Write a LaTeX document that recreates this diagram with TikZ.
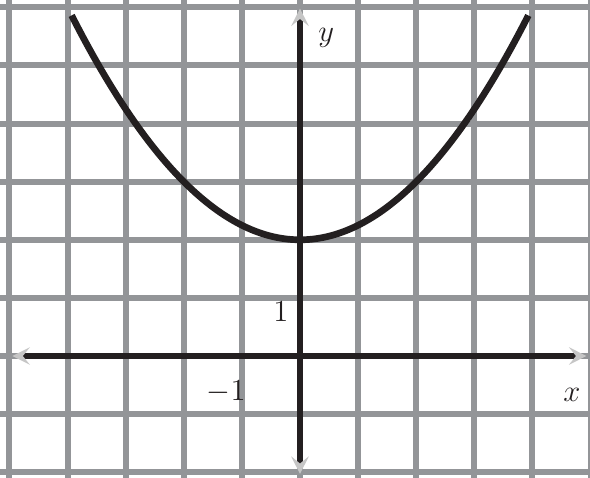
\documentclass[tikz,border=0pt]{standalone}
\usepackage{fix-cm}
\usetikzlibrary{arrows.meta}
\definecolor{gridgray}{HTML}{939598}
\definecolor{inkblack}{HTML}{231F20}
\begin{document}
\begin{tikzpicture}[x=1cm,y=1cm,
  gridline/.style={draw=gridgray, line width=0.103cm},
  axisline/.style={draw=inkblack, line width=0.105cm,
    {Stealth[length=0.3cm,width=0.3cm,inset=0.12cm,color=gray!45]}-{Stealth[length=0.3cm,width=0.3cm,inset=0.12cm,color=gray!45]}},
  curveline/.style={draw=inkblack, line width=0.115cm, line join=round},
  lbl/.style={inner sep=0pt, text=inkblack, font=\fontsize{15}{18}\selectfont}
]
\useasboundingbox (-5.163,-2.083) rectangle (4.991,6.127);
% grid
\foreach \i in {-5,...,5} \draw[gridline] (\i,-2.2) -- (\i,6.2);
\foreach \j in {-2,...,6} \draw[gridline] (-5.3,\j) -- (5.2,\j);
% axes
\coordinate (xl) at (-4.95,0);
\coordinate (xr) at (4.93,0);
\coordinate (yb) at (0,-2.03);
\coordinate (yt) at (0,5.98);
\draw[axisline] (xl) -- (xr);
\draw[axisline] (yb) -- (yt);
% curve y = 2 + x^2/4
\draw[curveline] plot[domain=-3.93:3.93, samples=100, smooth] (\x,{2+\x*\x/4});
% labels
\node[lbl] (ylab) at (0.45,5.47) {$y$};
\node[lbl] (xlab) at (4.68,-0.67) {$x$};
\node[lbl] (one) at (-0.33,0.77) {$1$};
\node[lbl] (mone) at (-1.27,-0.62) {$-1$};
\end{tikzpicture}
\end{document}
